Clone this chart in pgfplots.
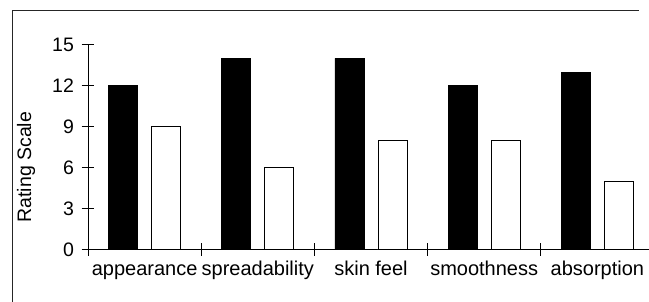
\documentclass[border=0pt]{standalone}
\usepackage{pgfplots}
\pgfplotsset{compat=1.18}
\usepackage{fontspec}
\setmainfont{Liberation Sans}
\begin{document}
\fontsize{20}{24}\selectfont
\begin{tikzpicture}
\path[use as bounding box] (0,0) rectangle (649pt,301pt);
\clip (0,0) rectangle (649pt,301pt);
\draw[line width=0.9pt, color=black!85] (12pt,-10pt) -- (12pt,291pt) -- (639pt,291pt);
\begin{axis}[
  at={(88pt,51.3pt)}, anchor=south west,
  scale only axis, width=566pt, height=205pt,
  xmin=-0.5, xmax=4.5, ymin=0, ymax=15,
  axis lines=left, axis line style={-, line width=0.8pt},
  ytick={0,3,6,9,12,15},
  xtick={-0.5,0.5,1.5,2.5,3.5,4.5}, xticklabels={},
  extra x ticks={0,1,2,3,4},
  extra x tick labels={appearance,spreadability,skin feel,smoothness,absorption},
  extra x tick style={major tick length=0pt, tick label style={anchor=base, yshift=-26pt, font=\fontsize{20}{24}\selectfont}},
  tick align=center, major tick length=12.5pt,
  tick style={line width=0.8pt, black},
  /pgf/number format/assume math mode=true,
  yticklabel style={font=\fontsize{19.5}{23}\selectfont, xshift=-1pt},
  ylabel={Rating Scale},
  every axis y label/.style={at={(axis description cs:-0.1095,0.403)}, rotate=90, anchor=center, font=\fontsize{19.5}{23}\selectfont},
  clip=false,
]
\addplot[ybar, bar width=29pt, bar shift=-21.5pt, fill=black, draw=black, line width=0.6pt]
  coordinates {(0,12) (1,14) (2,14) (3,12) (4,13)};
\addplot[ybar, bar width=29pt, bar shift=21.5pt, fill=white, draw=black, line width=0.9pt]
  coordinates {(0,9) (1,6) (2,8) (3,8) (4,5)};
\end{axis}
\end{tikzpicture}
\end{document}
